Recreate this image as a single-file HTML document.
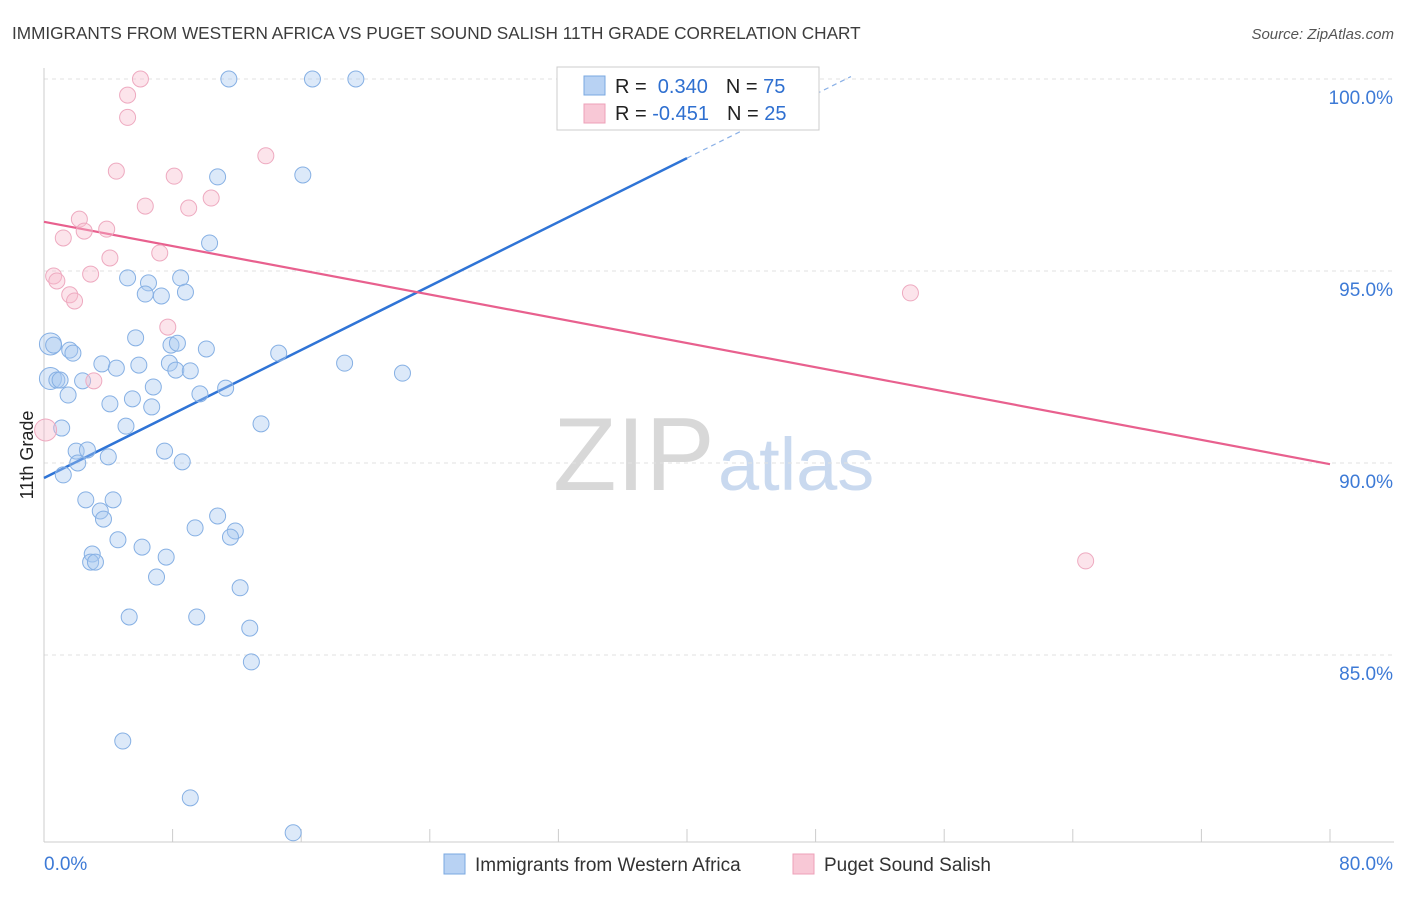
<!DOCTYPE html>
<html><head><meta charset="utf-8"><style>
body{margin:0;background:#fff;font-family:"Liberation Sans",sans-serif;}
svg text{font-family:"Liberation Sans",sans-serif;}
</style></head><body>
<svg id="chart" width="1406" height="892" xmlns="http://www.w3.org/2000/svg">
<text x="12" y="39" font-size="17.2" fill="#3c3c3c">IMMIGRANTS FROM WESTERN AFRICA VS PUGET SOUND SALISH 11TH GRADE CORRELATION CHART</text>
<text x="1394" y="39" font-size="15" fill="#555" text-anchor="end" font-style="italic">Source: ZipAtlas.com</text>
<g>
<text x="553" y="490" font-size="104" fill="#d8d8d8" font-family="Liberation Serif">ZIP</text>
<text x="718" y="490" font-size="74" fill="#c9d9ef">atlas</text>
</g>
<text transform="translate(33,455) rotate(-90)" font-size="18" fill="#222" text-anchor="middle">11th Grade</text>
<g id="grid"></g><g id="axes"></g><g id="lines"></g><g id="points"></g>
<g>
<rect x="557" y="67" width="262" height="63" fill="#fff" stroke="#ccc"/>
<rect x="584" y="76" width="21" height="19" fill="#b8d2f3" stroke="#7aa8e0"/>
<text x="615" y="93" font-size="20" fill="#222">R = <tspan fill="#2e6fd0">&#160;0.340</tspan><tspan dx="18">N = </tspan><tspan fill="#2e6fd0">75</tspan></text>
<rect x="584" y="104" width="21" height="19" fill="#f8c8d6" stroke="#eea0b8"/>
<text x="615" y="120" font-size="20" fill="#222">R = <tspan fill="#2e6fd0">-0.451</tspan><tspan dx="18">N = </tspan><tspan fill="#2e6fd0">25</tspan></text>
</g>
<g>
<rect x="444" y="854" width="21" height="20" fill="#b8d2f3" stroke="#7aa8e0"/>
<text x="475" y="871" font-size="19" fill="#333">Immigrants from Western Africa</text>
<rect x="793" y="854" width="21" height="20" fill="#f8c8d6" stroke="#eea0b8"/>
<text x="824" y="871" font-size="19" fill="#333">Puget Sound Salish</text>
</g>
</svg>
<script>
const blueX=[11.5,16.7,19.4,33.5,35.8,10.8,16.1,10.3,5.2,6.5,8.5,6.3,7.3,8.8,5.7,0.4,0.6,1.6,1.8,7.9,8.3,10.1,14.6,3.6,4.5,5.9,7.8,8.2,9.1,18.7,22.3,0.4,0.8,1.0,2.4,6.8,11.3,1.5,9.7,5.5,4.1,6.7,1.1,5.1,13.5,2.0,2.7,7.5,4.0,2.1,8.6,1.2,2.6,4.3,3.5,3.7,10.8,9.4,11.9,11.6,4.6,6.1,3.0,7.6,2.9,3.2,7.0,12.2,5.3,9.5,12.8,12.9,4.9,9.1,15.5];
const blueY=[100,100,100,100,100,97.45,97.5,95.73,94.82,94.69,94.82,94.4,94.35,94.45,93.26,93.1,93.07,92.94,92.86,93.07,93.12,92.97,92.86,92.58,92.47,92.55,92.6,92.42,92.4,92.6,92.34,92.2,92.16,92.16,92.14,91.98,91.95,91.77,91.8,91.67,91.54,91.46,90.91,90.96,91.02,90.31,90.34,90.31,90.16,90.0,90.03,89.69,89.04,89.04,88.75,88.54,88.62,88.31,88.23,88.07,88.0,87.81,87.63,87.55,87.42,87.42,87.03,86.75,85.99,85.99,85.7,84.82,82.76,81.28,80.37];
const blueSize=blueX.map((_,i)=>(i===15||i===31)?11:8);
const pinkX=[6.0,5.2,5.2,13.8,4.5,8.1,6.3,9.0,10.4,2.2,2.5,3.9,1.2,4.1,7.2,0.6,0.8,2.9,1.6,1.9,7.7,3.1,0.1,53.9,64.8];
const pinkY=[100,99.58,99.0,98.0,97.6,97.47,96.69,96.64,96.9,96.35,96.04,96.09,95.86,95.34,95.47,94.87,94.74,94.92,94.38,94.22,93.54,92.14,90.86,94.43,87.45];
const pinkSize=pinkX.map((_,i)=>i===22?11:8);
const yTicks=[100,95,90,85];
const yTickLabels=["100.0%","95.0%","90.0%","85.0%"];
const xTicks=[0,8,16,24,32,40,48,56,64,72,80];
const blueTrend=[89.61,97.94,40,50.2];
const pinkTrend=[96.28,89.97];
const X=v=>44+v*1286/80, Y=v=>79+(100-v)*38.4;
const NS="http://www.w3.org/2000/svg";
function mk(p,t,a){const e=document.createElementNS(NS,t);for(const k in a)e.setAttribute(k,a[k]);document.getElementById(p).appendChild(e);return e;}
yTicks.forEach((v,i)=>{
 const g=mk('grid','line',{x1:44,x2:1394,y1:Y(v),y2:Y(v),stroke:'#e2e2e2','stroke-dasharray':'4,4'});
 
 
 const t=mk('grid','text',{x:1393,y:Y(v)+25,'font-size':19,fill:'#3d7ad6','text-anchor':'end'});
 t.textContent=yTickLabels[i];
 
 
});
const ax=mk('axes','line',{x1:44,x2:44,y1:68,y2:842,stroke:'#ccc'});


const bx=mk('axes','line',{x1:44,x2:1394,y1:842,y2:842,stroke:'#ccc'});


xTicks.forEach(v=>{
 const t=mk('axes','line',{x1:X(v),x2:X(v),y1:829,y2:842,stroke:'#ccc'});
 
 
});
const xl0=mk('axes','text',{x:44,y:870,'font-size':19,fill:'#3d7ad6'});xl0.textContent='0.0%';


const xl1=mk('axes','text',{x:1393,y:870,'font-size':19,fill:'#3d7ad6','text-anchor':'end'});xl1.textContent='80.0%';


function dots(xs,ys,rs,fill,stroke,name){xs.forEach((x,i)=>{
 const c=mk('points','circle',{cx:X(x),cy:Y(ys[i]),r:rs[i],fill:fill,stroke:stroke,'stroke-width':1});
 
 
});}
dots(blueX,blueY,blueSize,'rgba(168,200,240,0.4)','#86b0e4','blue-point');
dots(pinkX,pinkY,pinkSize,'rgba(247,188,206,0.4)','#eeaac0','pink-point');
const bs=(blueTrend[1]-blueTrend[0])/40;
const bl=mk('lines','line',{x1:X(0),y1:Y(blueTrend[0]),x2:X(blueTrend[2]),y2:Y(blueTrend[0]+bs*blueTrend[2]),stroke:'#2f74d6','stroke-width':2.5});


const bd=mk('lines','line',{x1:X(blueTrend[2]),y1:Y(blueTrend[0]+bs*blueTrend[2]),x2:X(blueTrend[3]),y2:Y(blueTrend[0]+bs*blueTrend[3]),stroke:'#8ab0e6','stroke-width':1.2,'stroke-dasharray':'5,4'});


const pl=mk('lines','line',{x1:X(0),y1:Y(pinkTrend[0]),x2:X(80),y2:Y(pinkTrend[1]),stroke:'#e8608e','stroke-width':2.2});


</script>
</body></html>
